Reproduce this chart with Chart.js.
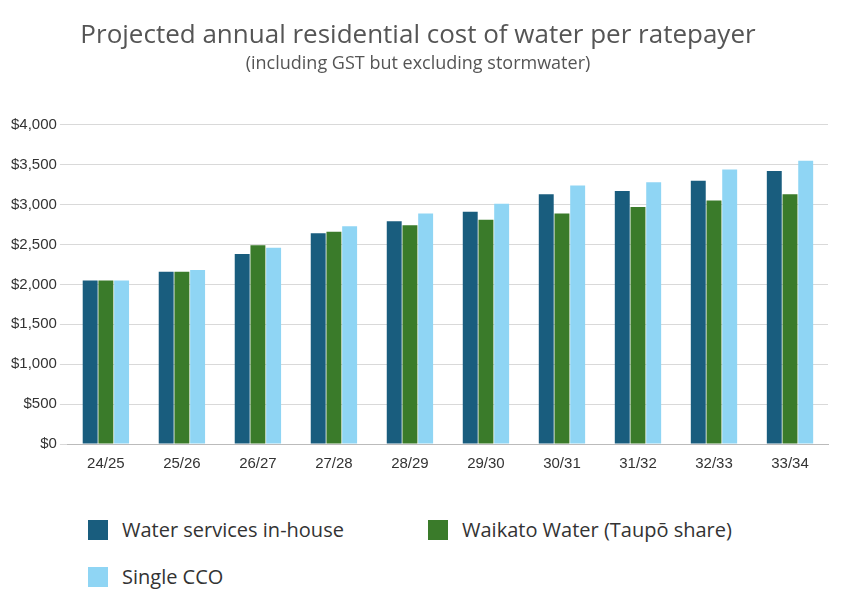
<!DOCTYPE html>
<html>
<head>
<meta charset="utf-8">
<script src="https://cdn.jsdelivr.net/npm/chart.js@4.4.0/dist/chart.umd.min.js"></script>
<style>
  body { margin: 0; background: #fff; font-family: "Open Sans", sans-serif; }
  #wrap { position: relative; width: 850px; height: 476px; }
  #legend { position: absolute; left: 88px; top: 516px; width: 740px; display: grid; grid-template-columns: 340px 400px; row-gap: 20px; font-size: 20px; color: #333; }
  #legend div { display: flex; align-items: center; }
  #legend span.box { width: 20px; height: 20px; margin-right: 14px; display: inline-block; }
</style>
</head>
<body>
<div id="wrap"><canvas id="costChart"></canvas></div>
<div id="legend"></div>
<script>
document.addEventListener('DOMContentLoaded', function() {
    var labels = ['24/25', '25/26', '26/27', '27/28', '28/29', '29/30', '30/31', '31/32', '32/33', '33/34'];
    var series = [
        { label: 'Water services in-house', color: '#195d7e',
          data: [2050, 2160, 2380, 2640, 2790, 2910, 3130, 3170, 3300, 3420] },
        { label: 'Waikato Water (Taupō share)', color: '#3a7b2a',
          data: [2050, 2160, 2490, 2660, 2740, 2810, 2890, 2970, 3050, 3130] },
        { label: 'Single CCO', color: '#8fd5f4',
          data: [2050, 2180, 2460, 2730, 2890, 3010, 3240, 3280, 3440, 3550] }
    ];

    var legend = document.getElementById('legend');
    series.forEach(function(s) {
        var item = document.createElement('div');
        item.innerHTML = '<span class="box" style="background:' + s.color + '"></span>' + s.label;
        legend.appendChild(item);
    });

    new Chart(document.getElementById('costChart'), {
        type: 'bar',
        data: {
            labels: labels,
            datasets: series.map(function(s) {
                return { label: s.label, data: s.data, backgroundColor: s.color,
                         categoryPercentage: 0.62, barPercentage: 0.95 };
            })
        },
        options: {
            responsive: true,
            maintainAspectRatio: false,
            animation: false,
            layout: { padding: { left: 8, right: 22, top: 20 } },
            plugins: {
                legend: { display: false },
                title: { display: true, text: 'Projected annual residential cost of water per ratepayer',
                         color: '#555', font: { size: 26, family: 'Open Sans', weight: '500' }, padding: { bottom: 2 } },
                subtitle: { display: true, text: '(including GST but excluding stormwater)',
                            color: '#555', font: { size: 18, family: 'Open Sans' }, padding: { bottom: 50 } }
            },
            scales: {
                x: { grid: { display: false }, border: { color: '#bbb' },
                     ticks: { color: '#333', font: { size: 15 } } },
                y: { min: 0, max: 4000,
                     ticks: { stepSize: 500, color: '#333', font: { size: 15 },
                              callback: function(v) { return '$' + v.toLocaleString('en-US'); } },
                     grid: { color: '#d9d9d9' }, border: { display: false } }
            }
        }
    });
});
</script>
</body>
</html>
